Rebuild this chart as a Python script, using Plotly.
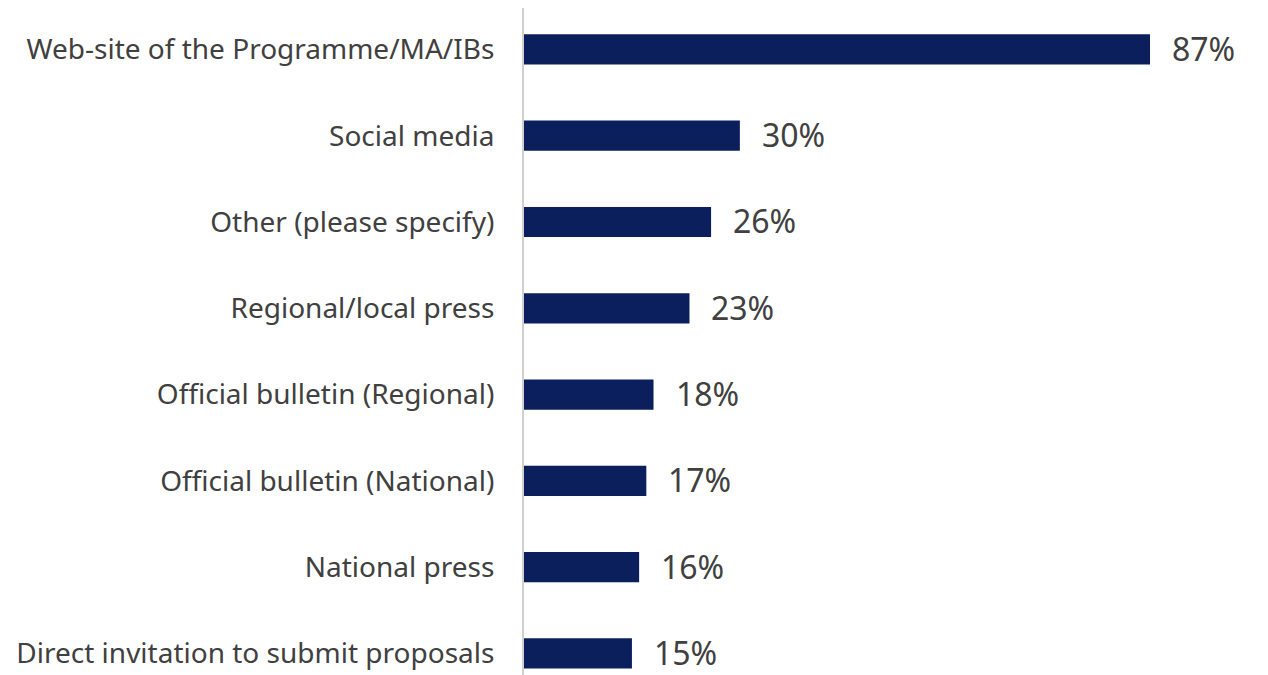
import plotly.graph_objects as go

categories = [
    "Web-site of the Programme/MA/IBs",
    "Social media",
    "Other (please specify)",
    "Regional/local press",
    "Official bulletin (Regional)",
    "Official bulletin (National)",
    "National press",
    "Direct invitation to submit proposals",
]
shares = [87, 30, 26, 23, 18, 17, 16, 15]
value_labels = [f"{v}%" for v in shares]

BAR_COLOR = "#0b1f5c"
TEXT_COLOR = "#404040"
FONT = "Noto Sans"

fig = go.Figure(
    go.Bar(
        x=shares,
        y=categories,
        orientation="h",
        marker=dict(color=BAR_COLOR, line=dict(width=0)),
        width=0.35,
        hoverinfo="skip",
    )
)

for cat, v, lab in zip(categories, shares, value_labels):
    fig.add_annotation(
        x=v, y=cat, text=lab, showarrow=False,
        xanchor="left", yanchor="middle", xshift=20, yshift=1,
        font=dict(family=FONT, size=32, color=TEXT_COLOR),
    )

fig.update_layout(
    width=1268, height=675,
    margin=dict(l=524, r=0, t=8, b=0),
    paper_bgcolor="white", plot_bgcolor="white",
    showlegend=False,
    font=dict(family=FONT, size=28, color=TEXT_COLOR),
)
fig.update_xaxes(
    range=[0, 103.4], showgrid=False, zeroline=False,
    showticklabels=False, showline=False,
)
fig.update_yaxes(
    categoryorder="array", categoryarray=categories,
    range=[7.25, -0.48], showgrid=False, zeroline=False,
    showline=True, linecolor="#d0d0d0", linewidth=2,
    ticks="", ticklabelstandoff=22,
    tickfont=dict(family=FONT, size=28, color=TEXT_COLOR),
)

fig.write_html("out.html")
